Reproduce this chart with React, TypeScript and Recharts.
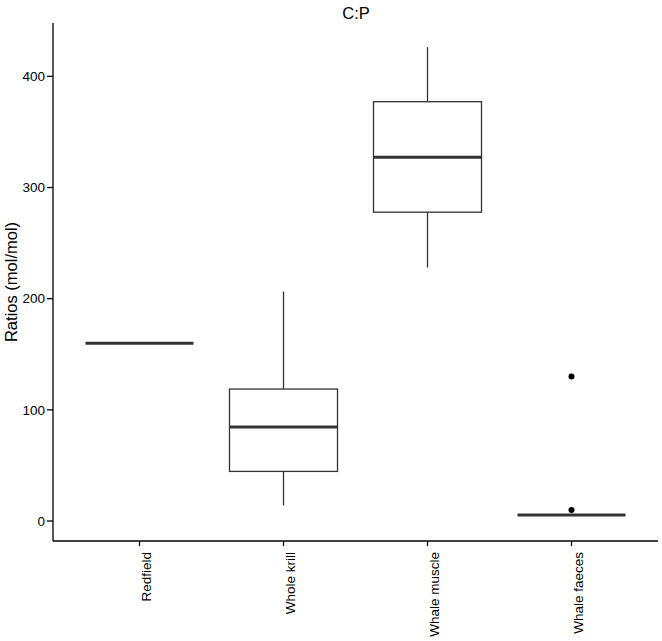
import React from 'react';
import { ComposedChart, Bar, Line, XAxis, YAxis } from 'recharts';

const categories = ['Redfield', 'Whole krill', 'Whale muscle', 'Whale faeces'];
const whiskerLow = [160, 14, 228, 5.4];
const lowerQuartile = [160, 44.6, 277.8, 5.4];
const medians = [160, 84.5, 327.2, 5.4];
const upperQuartile = [160, 118.7, 377.2, 5.4];
const whiskerHigh = [160, 206.4, 426.3, 5.4];
const outlierLow: (number | null)[] = [null, null, null, 9.9];
const outlierHigh: (number | null)[] = [null, null, null, 130];
const yTicks = [0, 100, 200, 300, 400];

const data = categories.map((name, i) => ({
    name,
    min: whiskerLow[i],
    q1: lowerQuartile[i],
    median: medians[i],
    q3: upperQuartile[i],
    max: whiskerHigh[i],
    outLow: outlierLow[i],
    outHigh: outlierHigh[i],
}));

const FONT = '"Liberation Sans", Arial, Helvetica, sans-serif';
const BOX_COLOR = '#333333';

// draws whiskers, box and median inside the [min, max] range bar
const BoxShape = (props: any) => {
    const { x, y, width, height, payload } = props;
    const { min, q1, median, q3, max } = payload;
    const span = max - min;
    const yOf = (v: number) => (span === 0 ? y : y + ((max - v) / span) * height);
    const cx = x + width / 2;
    const yMax = yOf(max);
    const yQ3 = yOf(q3);
    const yMed = yOf(median);
    const yQ1 = yOf(q1);
    const yMin = yOf(min);
    return (
        <g>
            <line x1={cx} x2={cx} y1={yMax} y2={yQ3} stroke={BOX_COLOR} strokeWidth={1.3} />
            <line x1={cx} x2={cx} y1={yQ1} y2={yMin} stroke={BOX_COLOR} strokeWidth={1.3} />
            {yQ1 - yQ3 > 0 && (
                <rect x={x} y={yQ3} width={width} height={yQ1 - yQ3} fill="#fff" stroke={BOX_COLOR} strokeWidth={1.3} />
            )}
            <line x1={x} x2={x + width} y1={yMed} y2={yMed} stroke={BOX_COLOR} strokeWidth={3} />
        </g>
    );
};

const CategoryTick = (props: any) => {
    const { x, y, payload } = props;
    const tx = x + 11;
    const ty = y + 4;
    return (
        <text
            x={tx}
            y={ty}
            transform={`rotate(-90 ${tx} ${ty})`}
            textAnchor="end"
            fontSize={13.5}
            fontFamily={FONT}
            fill="#000"
        >
            {payload.value}
        </text>
    );
};

export default function App() {
    return (
        <div style={{ position: 'absolute', left: 0, top: 0, width: 662, height: 641, background: '#fff' }}>
            <ComposedChart width={662} height={641} data={data} margin={{ top: 23, right: 4, bottom: 0, left: 0 }}>
                <XAxis
                    dataKey="name"
                    type="category"
                    height={100}
                    padding={{ left: 14.5, right: 14.5 }}
                    axisLine={{ stroke: '#000', strokeWidth: 1.3 }}
                    tickLine={{ stroke: '#000', strokeWidth: 1.3 }}
                    tickSize={5}
                    tickMargin={2}
                    tick={<CategoryTick />}
                    interval={0}
                />
                <YAxis
                    type="number"
                    domain={[-18, 448]}
                    ticks={yTicks}
                    width={53}
                    allowDataOverflow
                    axisLine={{ stroke: '#000', strokeWidth: 1.3 }}
                    tickLine={{ stroke: '#000', strokeWidth: 1.3 }}
                    tickSize={6}
                    tickMargin={2}
                    tick={{ fill: '#000', fontSize: 13.5, fontFamily: FONT }}
                />
                <Bar
                    dataKey={(d: any) => [d.min, d.max]}
                    barSize={108}
                    shape={<BoxShape />}
                    isAnimationActive={false}
                />
                <Line
                    dataKey="outHigh"
                    stroke="none"
                    dot={{ r: 3, fill: '#000', stroke: 'none' }}
                    activeDot={false}
                    isAnimationActive={false}
                />
                <Line
                    dataKey="outLow"
                    stroke="none"
                    dot={{ r: 3, fill: '#000', stroke: 'none' }}
                    activeDot={false}
                    isAnimationActive={false}
                />
            </ComposedChart>
            <svg width={662} height={641} style={{ position: 'absolute', left: 0, top: 0, pointerEvents: 'none' }}>
                <text x={356} y={18.5} textAnchor="middle" fontSize={16.5} fontFamily={FONT} fill="#000">
                    C:P
                </text>
                <text
                    x={17}
                    y={282}
                    transform="rotate(-90 17 282)"
                    textAnchor="middle"
                    fontSize={16.5}
                    fontFamily={FONT}
                    fill="#000"
                >
                    Ratios (mol/mol)
                </text>
            </svg>
        </div>
    );
}
